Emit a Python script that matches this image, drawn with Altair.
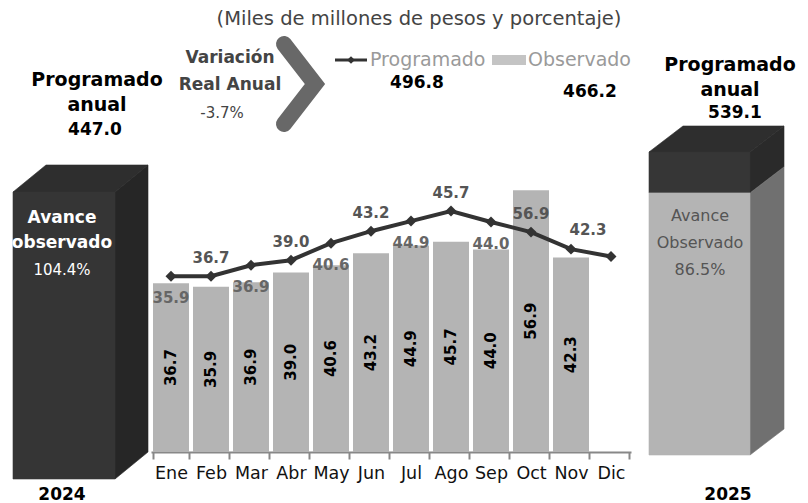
import altair as alt
import pandas as pd

# ---------------- data ----------------
months = ["Ene", "Feb", "Mar", "Abr", "May", "Jun", "Jul", "Ago", "Sep", "Oct", "Nov", "Dic"]
observado = [36.7, 35.9, 36.9, 39.0, 40.6, 43.2, 44.9, 45.7, 44.0, 56.9, 42.3, None]
programado = [38.2, 38.2, 40.6, 41.7, 45.4, 48.0, 50.2, 52.4, 50.0, 47.8, 44.1, 42.5]
line_labels = ["35.9", "36.7", "36.9", "39.0", "40.6", "43.2", "44.9", "45.7", "44.0", "56.9", "42.3", ""]
labels_above = ["Feb", "Abr", "Jun", "Ago", "Oct"]
labels_above_right = ["Nov"]
labels_below = ["Ene", "Mar", "May", "Jul", "Sep"]

prog_anual_2024 = 447.0
avance_2024 = 104.4
prog_anual_2025 = 539.1
avance_2025 = 86.5
prog_acumulado = 496.8
obs_acumulado = 466.2
variacion_real = -3.7

FONT = "DejaVu Sans"

df = pd.DataFrame({"month": months, "obs": observado, "prog": programado, "lbl": line_labels})
df["mid"] = df["obs"] / 2

X = alt.X(
    "month:N",
    sort=months,
    scale=alt.Scale(domain=months, range=[143, 623], paddingInner=0.1, paddingOuter=0.05),
    axis=alt.Axis(
        title=None, labelAngle=0, labelFontSize=17.5, labelColor="#111", labelFont=FONT,
        domainColor="#888", domainWidth=2, tickColor="#888", tickWidth=2, tickSize=7,
        tickBand="extent", labelPadding=5,
    ),
)
yscale = alt.Scale(domain=[0, 96.52], nice=False, zero=True)

main = alt.Chart(df)
bars = main.mark_bar(color="#b4b4b4").encode(x=X, y=alt.Y("obs:Q", scale=yscale, axis=None))
bar_labels = main.transform_filter("isValid(datum.obs)").mark_text(
    angle=270, fontSize=15, fontWeight="bold", color="#000", font=FONT, baseline="middle"
).encode(x=X, y=alt.Y("mid:Q", scale=yscale, axis=None), text=alt.Text("obs:Q", format=".1f"))
line = main.mark_line(color="#333333", strokeWidth=4).encode(
    x=X, y=alt.Y("prog:Q", scale=yscale, axis=None))
pts = main.mark_point(shape="diamond", filled=True, size=120, color="#333333", opacity=1).encode(
    x=X, y=alt.Y("prog:Q", scale=yscale, axis=None))


def line_label_layer(sel, dx, dy, color):
    return main.transform_filter(alt.FieldOneOfPredicate(field="month", oneOf=sel)).mark_text(
        dx=dx, dy=dy, fontSize=15, fontWeight="bold", color=color, font=FONT
    ).encode(x=X, y=alt.Y("prog:Q", scale=yscale, axis=None), text="lbl:N")


lab_up = line_label_layer(labels_above, 0, -18, "#555")
lab_up_r = line_label_layer(labels_above_right, 17, -19, "#555")
lab_dn = line_label_layer(labels_below, 0, 22, "#666")

# ---------------- decorations ----------------
base = alt.Chart(pd.DataFrame({"d": [0]}))


def poly(points, color):
    path = "M" + "L".join(f"{px},{py}" for px, py in points) + "Z"
    return base.mark_point(shape=path, size=4, filled=True, fill=color, stroke=color,
                           strokeWidth=0.6, opacity=1).encode(x=alt.value(0), y=alt.value(0))


def txt(s, x, y, size=16, bold=False, color="#000", align="center"):
    return base.mark_text(text=s, fontSize=size, fontWeight="bold" if bold else "normal",
                          color=color, align=align, baseline="middle", font=FONT).encode(
        x=alt.value(x), y=alt.value(y))


# left block (2024)
L_x0, L_x1, L_dx, L_dy, L_top, L_bot = 5, 107, 33, 27, 184, 471
left_layers = [
    poly([(L_x0, L_top), (L_x0 + L_dx, L_top - L_dy), (L_x1 + L_dx, L_top - L_dy), (L_x1, L_top)], "#2e2e2e"),
    poly([(L_x1, L_top), (L_x1 + L_dx, L_top - L_dy), (L_x1 + L_dx, L_bot - L_dy), (L_x1, L_bot)], "#262626"),
    poly([(L_x0, L_top), (L_x1, L_top), (L_x1, L_bot), (L_x0, L_bot)], "#353535"),
]

# right block (2025)
R_x0, R_x1, R_dx, R_dy, R_top, R_bot = 641, 742, 34, 26, 144, 447
R_split = R_bot - (R_bot - R_top) * avance_2025 / 100.0
right_layers = [
    poly([(R_x0, R_top), (R_x0 + R_dx, R_top - R_dy), (R_x1 + R_dx, R_top - R_dy), (R_x1, R_top)], "#2e2e2e"),
    poly([(R_x1, R_top), (R_x1 + R_dx, R_top - R_dy), (R_x1 + R_dx, R_split - R_dy), (R_x1, R_split)], "#2a2a2a"),
    poly([(R_x1, R_split), (R_x1 + R_dx, R_split - R_dy), (R_x1 + R_dx, R_bot - R_dy), (R_x1, R_bot)], "#707070"),
    poly([(R_x0, R_top), (R_x1, R_top), (R_x1, R_split), (R_x0, R_split)], "#363636"),
    poly([(R_x0, R_split), (R_x1, R_split), (R_x1, R_bot), (R_x0, R_bot)], "#b4b4b4"),
]

chevron = base.mark_point(shape="M276,36L307,76L276,116", size=4, filled=False, stroke="#686868",
                          strokeWidth=16, strokeCap="round", strokeJoin="miter", opacity=1).encode(
    x=alt.value(0), y=alt.value(0))

leg_line = base.mark_rule(color="#333333", strokeWidth=3).encode(
    x=alt.value(327), x2=alt.value(359), y=alt.value(52))
leg_pt = base.mark_point(shape="diamond", filled=True, size=60, color="#333333", opacity=1).encode(
    x=alt.value(343), y=alt.value(52))
leg_sw = base.mark_rect(color="#c4c4c4").encode(
    x=alt.value(484), x2=alt.value(518), y=alt.value(47), y2=alt.value(57))

texts = [
    txt("(Miles de millones de pesos y porcentaje)", 411, 11, size=19.5, color="#444"),
    txt("Variación", 222, 50, size=17, bold=True, color="#444"),
    txt("Real Anual", 222, 77, size=17, bold=True, color="#444"),
    txt(f"{variacion_real:.1f}%", 214, 105, size=15, color="#444"),
    txt("Programado", 362, 52, size=19, color="#9a9a9a", align="left"),
    txt("Observado", 520, 52, size=19, color="#9a9a9a", align="left"),
    txt(f"{prog_acumulado:.1f}", 409, 75, size=17, bold=True),
    txt(f"{obs_acumulado:.1f}", 582, 84, size=17, bold=True),
    txt("Programado", 89, 72, size=19, bold=True),
    txt("anual", 89, 97, size=19, bold=True),
    txt(f"{prog_anual_2024:.1f}", 87, 122, size=17, bold=True),
    txt("Avance", 54, 210, size=17, bold=True, color="#fff"),
    txt("observado", 54, 235, size=17, bold=True, color="#fff"),
    txt(f"{avance_2024:.1f}%", 54, 262, size=15, color="#fff"),
    txt("Programado", 722, 57, size=19, bold=True),
    txt("anual", 722, 82, size=19, bold=True),
    txt(f"{prog_anual_2025:.1f}", 727, 105, size=17, bold=True),
    txt("Avance", 692, 208, size=16, color="#555"),
    txt("Observado", 692, 235, size=16, color="#555"),
    txt(f"{avance_2025:.1f}%", 692, 262, size=16, color="#555"),
    txt("2024", 54, 487, size=17, bold=True),
    txt("2025", 720, 487, size=17, bold=True),
]

chart = alt.layer(
    bars, bar_labels, line, pts, lab_up, lab_up_r, lab_dn,
    *left_layers, *right_layers, chevron, leg_line, leg_pt, leg_sw, *texts,
).properties(width=792, height=444, padding=0, background="white").configure_view(strokeWidth=0)

chart.save("out.html", embed_options={"renderer": "svg", "actions": False})
